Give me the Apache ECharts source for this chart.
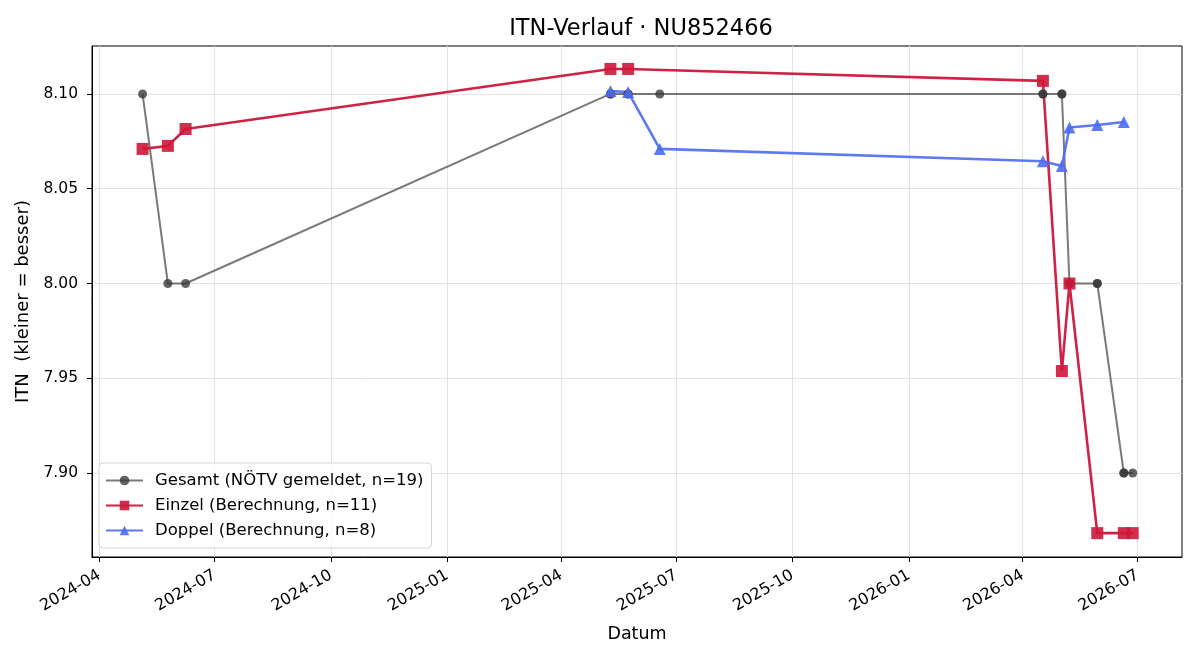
<!DOCTYPE html>
<html>
<head>
<meta charset="utf-8">
<script src="https://cdn.jsdelivr.net/npm/echarts@6/dist/echarts.min.js"></script>
<style>
  html, body { margin: 0; padding: 0; background: #fff; }
  #main { width: 1200px; height: 660px; }
</style>
</head>
<body>
<div id="main"></div>
<script>
// data
const gesamtDates  = ["2024-05-05", "2024-05-25", "2024-06-08", "2025-05-10", "2025-05-10", "2025-05-24", "2025-05-24", "2025-06-18",
                      "2026-04-17", "2026-04-17", "2026-05-02", "2026-05-02", "2026-05-08", "2026-05-08", "2026-05-30", "2026-05-30",
                      "2026-06-20", "2026-06-20", "2026-06-27"]
const gesamtValues = [8.10, 8.00, 8.00, 8.10, 8.10, 8.10, 8.10, 8.10,
                      8.10, 8.10, 8.10, 8.10, 8.00, 8.00, 8.00, 8.00,
                      7.90, 7.90, 7.90]

const einzelDates  = ["2024-05-05", "2024-05-25", "2024-06-08", "2025-05-10", "2025-05-24", "2026-04-17", "2026-05-02", "2026-05-08", "2026-05-30", "2026-06-20", "2026-06-27"]
const einzelValues = [8.071, 8.0726, 8.0815, 8.1132, 8.1132, 8.1069, 7.9538, 8.000, 7.8683, 7.8683, 7.8683]

const doppelDates  = ["2025-05-10", "2025-05-24", "2025-06-18", "2026-04-17", "2026-05-02", "2026-05-08", "2026-05-30", "2026-06-20"]
const doppelValues = [8.1015, 8.101, 8.071, 8.0645, 8.062, 8.0823, 8.0836, 8.0852]

const xTicks = ["2024-04-01", "2024-07-01", "2024-10-01", "2025-01-01", "2025-04-01", "2025-07-01", "2025-10-01", "2026-01-01", "2026-04-01", "2026-07-01"]
const yTicks = [7.90, 7.95, 8.00, 8.05, 8.10]

const toTs = s => {
  const [y, m, d] = s.split("-").map(Number)
  return Date.UTC(y, m - 1, d)
}
const pairs = (dates, values) => dates.map((d, i) => [toTs(d), values[i]])

const font = "'DejaVu Sans', sans-serif"

const options = {
  animation: false,
  backgroundColor: "#fff",
  textStyle: { fontFamily: font },
  title: {
    text: "ITN-Verlauf · NU852466",
    left: 636,
    textAlign: "center",
    top: 13,
    textStyle: { fontFamily: font, fontSize: 22.5, fontWeight: "normal", color: "#000" }
  },
  grid: {
    left: 92, right: 18, top: 46, bottom: 103,
    show: true, borderColor: "#000", borderWidth: 1, backgroundColor: "transparent"
  },
  legend: {
    orient: "vertical",
    left: 99, bottom: 112,
    padding: [9, 8, 9, 6],
    itemGap: 8,
    itemWidth: 37, itemHeight: 12,
    backgroundColor: "rgba(255,255,255,0.8)",
    borderColor: "#d5d5d5", borderWidth: 1, borderRadius: 4,
    textStyle: { fontFamily: font, fontSize: 16.5, color: "#000", padding: [0, 0, 0, 7] },
    data: ["Gesamt (NÖTV gemeldet, n=19)", "Einzel (Berechnung, n=11)", "Doppel (Berechnung, n=8)"]
  },
  xAxis: {
    type: "value",
    min: toTs("2024-03-26"),
    max: toTs("2026-08-05"),
    name: "Datum",
    nameLocation: "middle",
    nameGap: 68,
    nameTextStyle: { fontFamily: font, fontSize: 17.5, color: "#000" },
    axisLine: { show: true, onZero: false, lineStyle: { color: "#000", width: 1 } },
    axisTick: { show: true, inside: false, length: 5, lineStyle: { color: "#000" }, customValues: xTicks.map(toTs) },
    axisLabel: {
      customValues: xTicks.map(toTs),
      rotate: 30,
      margin: 17,
      fontFamily: font, fontSize: 16, color: "#000",
      hideOverlap: false,
      showMinLabel: true, showMaxLabel: true,
      formatter: v => {
        const d = new Date(v)
        return d.getUTCFullYear() + "-" + String(d.getUTCMonth() + 1).padStart(2, "0")
      }
    },
    splitLine: { show: true, lineStyle: { color: "#e3e3e3", width: 1 } }
  },
  yAxis: {
    type: "value",
    min: 7.8557,
    max: 8.1253,
    name: "ITN  (kleiner = besser)",
    nameLocation: "middle",
    nameGap: 58,
    nameTextStyle: { fontFamily: font, fontSize: 18, color: "#000" },
    axisLine: { show: true, lineStyle: { color: "#000", width: 1 } },
    axisTick: { show: true, inside: false, length: 5, lineStyle: { color: "#000" }, customValues: yTicks },
    axisLabel: {
      customValues: yTicks,
      margin: 14,
      fontFamily: font, fontSize: 15.5, color: "#000",
      formatter: v => v.toFixed(2)
    },
    splitLine: { show: true, lineStyle: { color: "#e3e3e3", width: 1 } }
  },
  series: [
    {
      name: "Gesamt (NÖTV gemeldet, n=19)",
      type: "line",
      data: pairs(gesamtDates, gesamtValues),
      symbol: "circle", symbolSize: 9,
      showAllSymbol: true,
      lineStyle: { color: "rgba(70,70,70,0.72)", width: 2 },
      itemStyle: { color: "rgba(55,55,55,0.78)" }
    },
    {
      name: "Einzel (Berechnung, n=11)",
      type: "line",
      data: pairs(einzelDates, einzelValues),
      symbol: "rect", symbolSize: 12,
      showAllSymbol: true,
      lineStyle: { color: "rgba(206,22,58,0.95)", width: 2.6 },
      itemStyle: { color: "rgba(206,22,58,0.9)" }
    },
    {
      name: "Doppel (Berechnung, n=8)",
      type: "line",
      data: pairs(doppelDates, doppelValues),
      symbol: "triangle", symbolSize: 12,
      showAllSymbol: true,
      lineStyle: { color: "rgba(75,108,240,0.9)", width: 2.6 },
      itemStyle: { color: "rgba(75,108,240,0.9)" }
    }
  ]
}

const myChart = echarts.init(document.getElementById("main"))
myChart.setOption(options)
window.onresize = () => myChart.resize()
</script>
</body>
</html>
